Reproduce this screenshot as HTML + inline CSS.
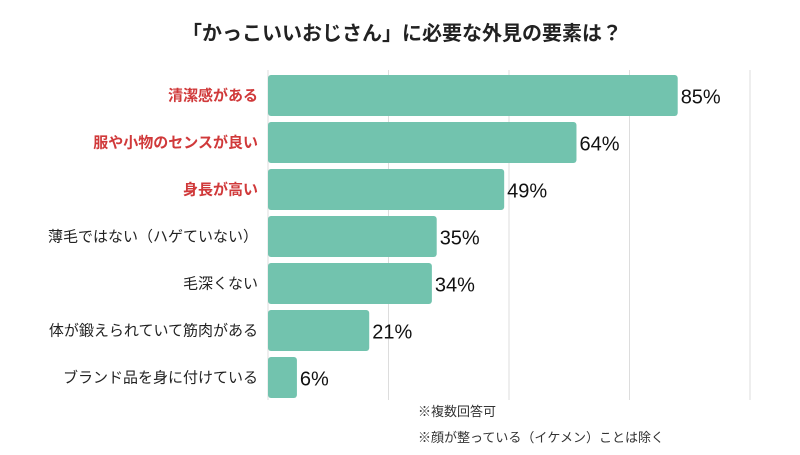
<!DOCTYPE html>
<html><head><meta charset="utf-8"><style>
body{margin:0;background:#fff;}
svg text{font-family:"Liberation Sans","Noto Sans CJK JP",sans-serif;}
</style></head><body>
<svg width="800" height="450" viewBox="0 0 800 450">
<text x="402" y="40" text-anchor="middle" font-size="20" font-weight="bold" fill="#222">「かっこいいおじさん」に必要な外見の要素は？</text>
<g id="grid"></g><g id="bars"></g>
<text x="418" y="416" font-size="13" fill="#333">※複数回答可</text>
<text x="418" y="442" font-size="13" fill="#333">※顔が整っている（イケメン）ことは除く</text>
</svg>
<script>
const categories=["清潔感がある","服や小物のセンスが良い","身長が高い","薄毛ではない（ハゲていない）","毛深くない","体が鍛えられていて筋肉がある","ブランド品を身に付けている"];
const values=[85,64,49,35,34,21,6];
const highlight=[true,true,true,false,false,false,false];
const gridTicks=[25,50,75,100];
const ns="http://www.w3.org/2000/svg";
const x0=268,x1=750;
const xs=v=>x0+(x1-x0)*v/100;
const ys=i=>75+i*47;
const bh=41;
const grid=document.getElementById('grid'),bars=document.getElementById('bars');
function mk(tag,attrs,parent){const e=document.createElementNS(ns,tag);for(const k in attrs)e.setAttribute(k,attrs[k]);parent.appendChild(e);return e;}
gridTicks.forEach(t=>{
 const l=mk('line',{x1:xs(t),x2:xs(t),y1:70,y2:400,stroke:'#ddd','stroke-width':1},grid);
 
 
});
const ax=mk('line',{x1:x0,x2:x0,y1:70,y2:400,stroke:'#ddd','stroke-width':1},grid);


categories.forEach((c,i)=>{
 const y=ys(i);
 const r=mk('rect',{x:x0,y:y,width:xs(values[i])-x0,height:bh,rx:3,fill:'#72c3ae'},bars);
 
 
 const lb=mk('text',{x:258,y:y+bh/2+5,'text-anchor':'end','font-size':15,'font-weight':highlight[i]?'bold':'normal',fill:highlight[i]?'#d0393a':'#222'},bars);
 lb.textContent=c;
 
 
 const vl=mk('text',{x:xs(values[i])+3,y:y+bh/2+8,'font-size':20,fill:'#111'},bars);
 vl.textContent=values[i]+'%';
 
 
});
</script>
</body></html>
